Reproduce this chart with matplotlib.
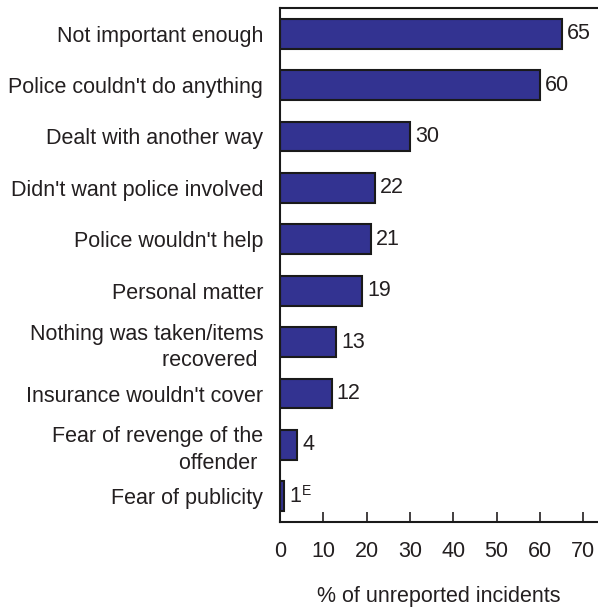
import matplotlib.pyplot as plt

plt.rcParams['font.family'] = ['Liberation Sans', 'DejaVu Sans']
plt.rcParams['text.color'] = '#231f20'
plt.rcParams['xtick.color'] = '#231f20'
plt.rcParams['ytick.color'] = '#231f20'
plt.rcParams['axes.labelcolor'] = '#231f20'

reasons = ["Not important enough", "Police couldn't do anything", "Dealt with another way",
           "Didn't want police involved", "Police wouldn't help", "Personal matter",
           "Nothing was taken/items\nrecovered ", "Insurance wouldn't cover",
           "Fear of revenge of the\noffender ", "Fear of publicity"]
percent = [65, 60, 30, 22, 21, 19, 13, 12, 4, 1]
notes = ["", "", "", "", "", "", "", "", "", "E"]

fs = 15.5
fig = plt.figure(figsize=(5.98, 6.09), dpi=100)
ax = fig.add_axes([280 / 598, 1 - 522 / 609, 318 / 598, 514 / 609])

pos = list(range(len(reasons)))
bars = ax.barh(pos, percent, height=0.58, color='#333391', edgecolor='#1a1a1a', linewidth=1.5)
ax.set_ylim(len(reasons) - 0.5, -0.5)
ax.set_xlim(0, 73.4)

for b, v, n in zip(bars, percent, notes):
    y = b.get_y() + b.get_height() / 2
    ax.annotate(str(v), (v, y), xytext=(3.5, 0), textcoords='offset points',
                va='center', ha='left', fontsize=fs)
    if n:
        ax.annotate(n, (v, y), xytext=(12.5, 4), textcoords='offset points',
                    va='center', ha='left', fontsize=10)

ax.set_yticks(pos)
ax.set_yticklabels(reasons, fontsize=fs, multialignment='right', linespacing=1.35)
ax.tick_params(axis='y', length=0, pad=12)
ax.set_xticks(range(0, 71, 10))
ax.tick_params(axis='x', direction='in', length=7, width=1.2, labelsize=fs, pad=14)
ax.set_xlabel("% of unreported incidents", fontsize=fs, labelpad=17)

ax.spines['right'].set_visible(False)
for s in ['left', 'top', 'bottom']:
    ax.spines[s].set_linewidth(1.5)
    ax.spines[s].set_color('#1a1a1a')

fig.savefig('out.png', dpi=100)
